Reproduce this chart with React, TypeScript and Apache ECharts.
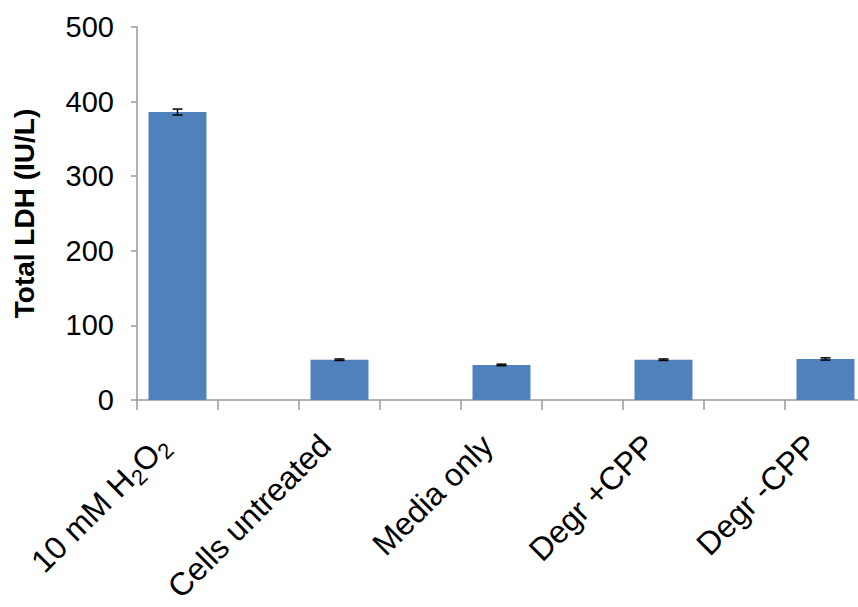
import React, { useEffect, useRef } from "react";
import * as echarts from "echarts";

const categories = [
  "10 mM H2O2",
  "",
  "Cells untreated",
  "",
  "Media only",
  "",
  "Degr +CPP",
  "",
  "Degr -CPP",
];
const ldhValues: (number | null)[] = [386, null, 54, null, 47, null, 54, null, 55];
const ldhErrors: (number | null)[] = [4, null, 1, null, 1, null, 1, null, 1.5];
const yTicks = { min: 0, max: 500, interval: 100 };
const yAxisTitle = "Total LDH (IU/L)";

const FONT = "Liberation Sans, Arial, sans-serif";

export default function App() {
  const ref = useRef<HTMLDivElement>(null);
  useEffect(() => {
    if (!ref.current) return;
    const chart = echarts.init(ref.current, undefined, { renderer: "svg" });
    const errData = ldhValues
      .map((v, i) =>
        v == null || ldhErrors[i] == null
          ? null
          : [i, v - (ldhErrors[i] as number), v + (ldhErrors[i] as number)]
      )
      .filter((d) => d != null);
    chart.setOption({
      animation: false,
      backgroundColor: "#ffffff",
      textStyle: { fontFamily: FONT },
      grid: { left: 137, top: 27, width: 729, height: 373 },
      xAxis: {
        type: "category",
        data: categories,
        boundaryGap: true,
        axisLine: { show: true, lineStyle: { color: "#9a9a9a", width: 1.5 } },
        axisTick: { show: true, length: 10, interval: 0, lineStyle: { color: "#9a9a9a", width: 1.5 } },
        axisLabel: {
          interval: 0,
          rotate: 45,
          margin: 26,
          fontSize: 32,
          color: "#000",
          fontFamily: FONT,
          padding: [0, 20, 0, 0],
          formatter: (v: string) =>
            v === "10 mM H2O2" ? "{b|10 mM H}{s|2}{b|O}{s|2}" : v ? "{b|" + v + "}" : "",
          rich: {
            b: { fontSize: 32, color: "#000", fontFamily: FONT },
            s: {
              fontSize: 22,
              color: "#000",
              fontFamily: FONT,
              verticalAlign: "bottom",
              padding: [18, 0, 0, 0],
            },
          },
        },
      },
      yAxis: {
        type: "value",
        min: yTicks.min,
        max: yTicks.max,
        interval: yTicks.interval,
        name: yAxisTitle,
        nameLocation: "middle",
        nameGap: 99,
        nameTextStyle: {
          fontSize: 28,
          fontWeight: "bold",
          color: "#000",
          fontFamily: FONT,
        },
        axisLine: { show: true, lineStyle: { color: "#9a9a9a", width: 1.5 } },
        axisTick: { show: true, length: 6, lineStyle: { color: "#9a9a9a", width: 1.5 } },
        axisLabel: {
          margin: 23,
          fontSize: 29,
          color: "#000",
          fontFamily: FONT,
        },
        splitLine: { show: false },
      },
      series: [
        {
          type: "bar",
          data: ldhValues,
          barWidth: 58,
          itemStyle: { color: "#4F81BD" },
        },
        {
          type: "custom",
          data: errData,
          z: 10,
          renderItem: (params: any, api: any) => {
            const x = api.value(0);
            const lo = api.coord([x, api.value(1)]);
            const hi = api.coord([x, api.value(2)]);
            const hw = 5;
            const style = { stroke: "#000", lineWidth: 1.5 };
            return {
              type: "group",
              children: [
                { type: "line", shape: { x1: lo[0], y1: lo[1], x2: hi[0], y2: hi[1] }, style },
                { type: "line", shape: { x1: lo[0] - hw, y1: lo[1], x2: lo[0] + hw, y2: lo[1] }, style },
                { type: "line", shape: { x1: hi[0] - hw, y1: hi[1], x2: hi[0] + hw, y2: hi[1] }, style },
              ],
            };
          },
        },
      ],
    });
    return () => chart.dispose();
  }, []);
  return (
    <div style={{ position: "fixed", left: 0, top: 0, width: 858, height: 607, overflow: "hidden" }}>
      <div ref={ref} style={{ width: 900, height: 607 }} />
    </div>
  );
}
